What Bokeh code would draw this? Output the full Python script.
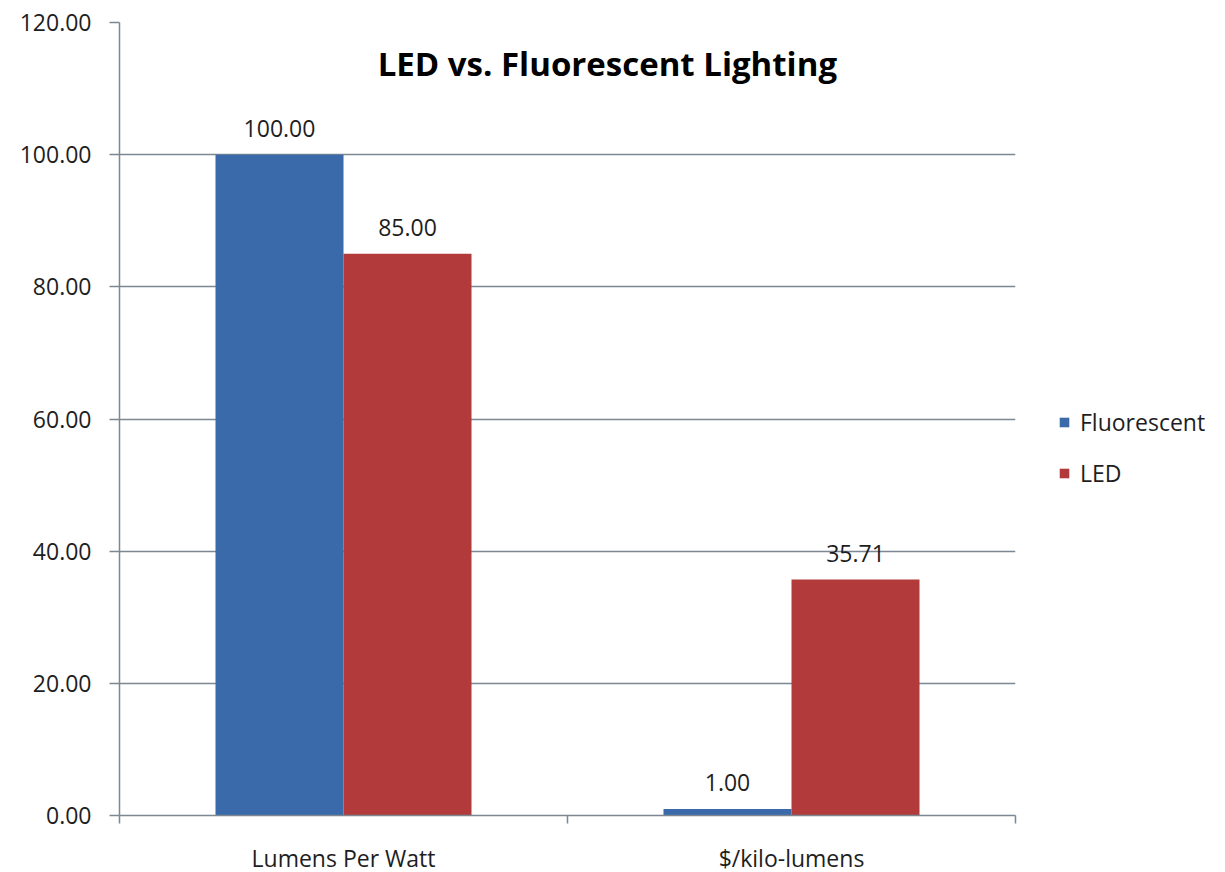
import numpy as np
from bokeh.plotting import figure
from bokeh.models import (ColumnDataSource, FixedTicker, NumeralTickFormatter,
                          Range1d, Legend, LegendItem, Label)
from bokeh.core.properties import value
from bokeh.embed import file_html
from bokeh.resources import INLINE

categories = ["Lumens Per Watt", "$/kilo-lumens"]
series_names = ["Fluorescent", "LED"]
fluorescent = [100.00, 1.00]
led = [85.00, 35.71]
y_ticks = [0, 20, 40, 60, 80, 100, 120]
title_text = "LED vs. Fluorescent Lighting"

BLUE = "#3A6AAA"
RED = "#B23A3A"
GRID = "#7d8791"
TEXT = "#1e1e1e"
FONT = "Open Sans"
FS = "23px"

centers = np.arange(len(categories)) + 0.5
bw = 1.0 / 3.5
src_f = ColumnDataSource(dict(x=centers - bw / 2, top=fluorescent,
                              lab=[f"{v:.2f}" for v in fluorescent]))
src_l = ColumnDataSource(dict(x=centers + bw / 2, top=led,
                              lab=[f"{v:.2f}" for v in led]))

p = figure(frame_width=896, frame_height=793, min_border_left=119,
           min_border_right=210, min_border_top=22, min_border_bottom=57,
           x_range=Range1d(0, len(categories)), y_range=Range1d(0, 120),
           output_backend="svg", toolbar_location=None)
p.outline_line_color = None
p.background_fill_color = "white"
p.border_fill_color = "white"

r_f = p.vbar(x="x", top="top", width=bw, source=src_f, fill_color=BLUE, line_color=None)
r_l = p.vbar(x="x", top="top", width=bw, source=src_l, fill_color=RED, line_color=None)

for s in (src_f, src_l):
    p.text(x="x", y="top", text="lab", source=s, text_align="center",
           text_baseline="middle", y_offset=-26, text_font=value(FONT),
           text_font_size=FS, text_color=TEXT)

# axes
p.xgrid.visible = False
p.ygrid.ticker = FixedTicker(ticks=y_ticks)
p.ygrid.grid_line_color = GRID
p.ygrid.grid_line_width = 1.5

ya = p.yaxis[0]
ya.ticker = FixedTicker(ticks=y_ticks)
ya.formatter = NumeralTickFormatter(format="0.00")
ya.axis_line_color = GRID
ya.axis_line_width = 1.5
ya.major_tick_line_color = GRID
ya.major_tick_line_width = 1.5
ya.major_tick_out = 10
ya.major_tick_in = 0
ya.minor_tick_line_color = None
ya.major_label_standoff = 18
ya.major_label_text_font = FONT
ya.major_label_text_font_size = FS
ya.major_label_text_color = TEXT

xa = p.xaxis[0]
xa.ticker = FixedTicker(ticks=list(centers), minor_ticks=list(range(len(categories) + 1)))
xa.major_label_overrides = {float(c): cat for c, cat in zip(centers, categories)}
xa.axis_line_color = GRID
xa.axis_line_width = 1.5
xa.major_tick_line_color = None
xa.major_tick_out = 0
xa.major_tick_in = 0
xa.minor_tick_line_color = GRID
xa.minor_tick_line_width = 1.5
xa.minor_tick_out = 8
xa.minor_tick_in = 0
xa.major_label_standoff = 18
xa.major_label_text_font = FONT
xa.major_label_text_font_size = FS
xa.major_label_text_color = TEXT

title = Label(x=1.089, y=113.8, text=title_text, text_align="center",
              text_baseline="middle", text_font=FONT, text_font_size="33px",
              text_font_style="bold", text_color="black")
p.add_layout(title)

legend = Legend(items=[LegendItem(label=series_names[0], renderers=[r_f]),
                       LegendItem(label=series_names[1], renderers=[r_l])],
                location=(43, 326), orientation="vertical",
                glyph_width=12, glyph_height=12, label_standoff=10,
                spacing=19, padding=0, margin=0, border_line_color=None,
                background_fill_alpha=0, label_text_font=FONT,
                label_text_font_size="23px", label_text_color=TEXT)
p.add_layout(legend, "right")

open("out.html", "w").write(file_html(p, INLINE))
